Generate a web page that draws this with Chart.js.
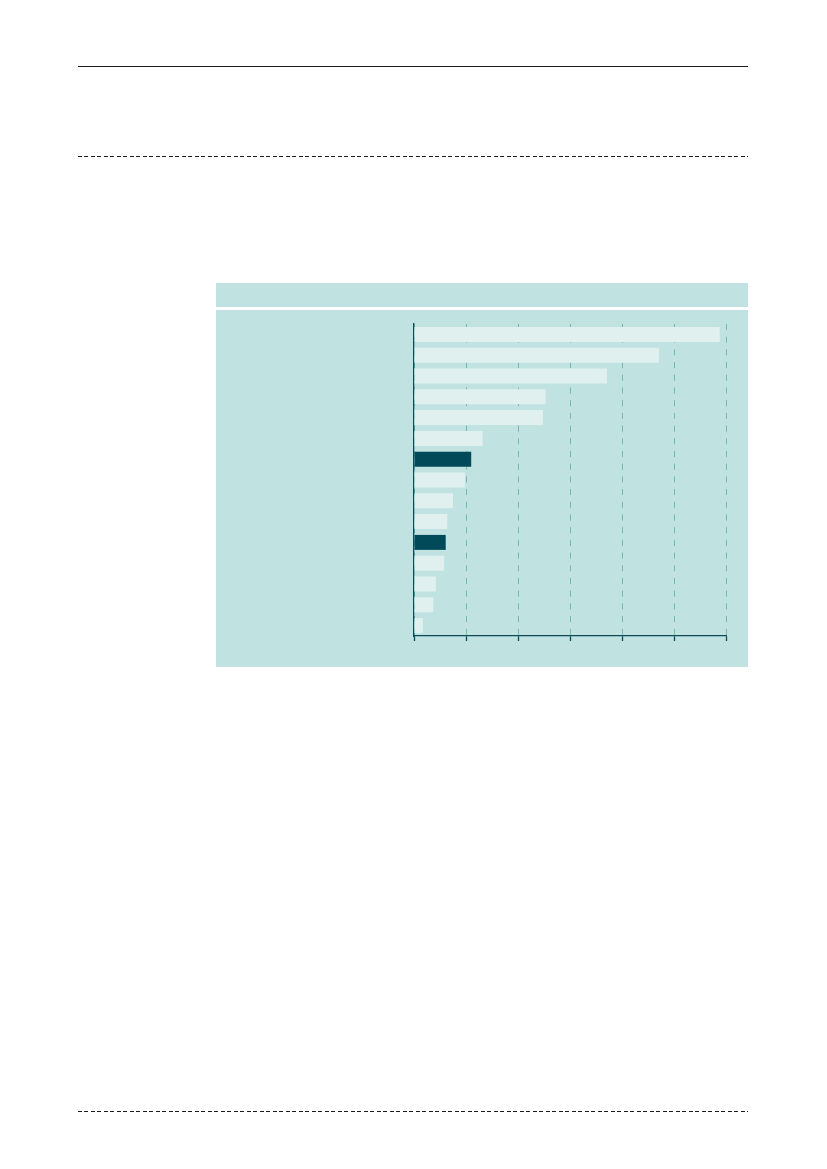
<!DOCTYPE html>
<html>
<head>
<meta charset="utf-8">
<script src="https://cdn.jsdelivr.net/npm/chart.js@4/dist/chart.umd.min.js"></script>
<style>
  html, body { margin: 0; padding: 0; background: #fff; }
  body { width: 827px; height: 1169px; position: relative; overflow: hidden; font-family: "Noto Sans", sans-serif; }
  .rule { position: absolute; left: 78px; width: 670px; height: 1px; }
  .solid { background: #1a1a1a; }
  .dashed { background: repeating-linear-gradient(to right, #1a1a1a 0 4px, transparent 4px 6.5px); }
  .panel-head { position: absolute; left: 216px; top: 283px; width: 532px; height: 24px; background: #c0e2e1; }
  .panel { position: absolute; left: 216px; top: 310px; width: 532px; height: 357px; background: #c0e2e1; }
  .panel canvas { position: absolute; left: 0; top: 0; }
</style>
</head>
<body>
<div class="rule solid" style="top:66px"></div>
<div class="rule dashed" style="top:156px"></div>
<div class="panel-head"></div>
<div class="panel"><canvas id="myChart" width="532" height="357"></canvas></div>
<div class="rule dashed" style="top:1111px"></div>
<script>
// categories (not labelled in the picture), top to bottom
const categories = ['A', 'B', 'C', 'D', 'E', 'F', 'G', 'H', 'I', 'J', 'K', 'L', 'M', 'N', 'O'];
const values = [58.8, 47.1, 37.1, 25.3, 24.8, 13.2, 11.0, 9.8, 7.5, 6.4, 6.1, 5.8, 4.2, 3.7, 1.7];
const highlighted = ['G', 'K'];
const xTicks = [0, 10, 20, 30, 40, 50, 60];

const lightBar = '#e0f0ef';
const darkBar = '#004a59';
const axisColor = '#0b4a5a';

const $ctx = document.getElementById('myChart');
const myChart = new Chart($ctx, {
  type: 'bar',
  data: {
    labels: categories,
    datasets: [
      {
        data: values,
        backgroundColor: categories.map(c => highlighted.includes(c) ? darkBar : lightBar),
        borderWidth: 0,
        barPercentage: 0.72,
        categoryPercentage: 1.0,
      },
    ],
  },
  options: {
    indexAxis: 'y',
    responsive: false,
    animation: false,
    events: [],
    layout: {padding: {left: 198, right: 22, top: 14, bottom: 26}},
    plugins: {legend: {display: false}, tooltip: {enabled: false}},
    scales: {
      x: {
        min: xTicks[0],
        max: xTicks[xTicks.length - 1],
        afterBuildTicks: scale => { scale.ticks = xTicks.map(v => ({value: v})); },
        ticks: {display: false},
        grid: {
          color: '#72b9b1',
          lineWidth: 1,
          drawTicks: true,
          tickLength: 5,
          tickColor: axisColor,
          tickWidth: 1.3,
        },
        border: {display: true, color: axisColor, width: 1.3, dash: [6, 6.7]},
      },
      y: {
        ticks: {display: false},
        grid: {display: false, drawTicks: false},
        border: {display: true, color: axisColor, width: 1.3},
      },
    },
  },
});
</script>
</body>
</html>
